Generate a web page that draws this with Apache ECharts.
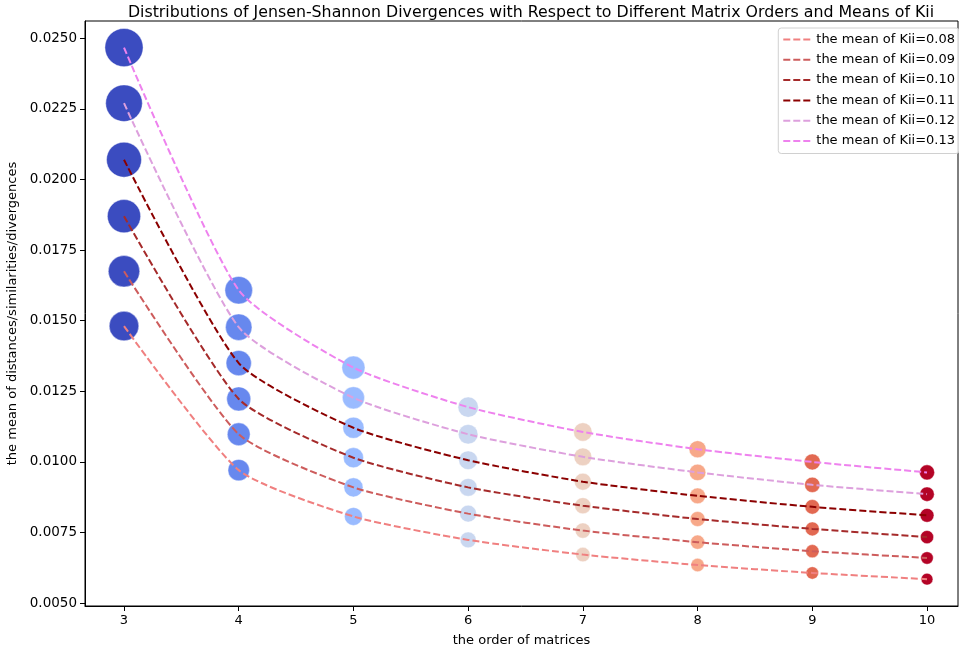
<!DOCTYPE html>
<html>
<head>
<meta charset="utf-8">
<script src="https://cdn.jsdelivr.net/npm/echarts@6/dist/echarts.min.js"></script>
<style>
  html, body { margin: 0; padding: 0; background: #fff; }
  #chart { width: 959px; height: 654px; }
</style>
</head>
<body>
<div id="chart"></div>
<script>
// matrix orders (x axis)
var orders = [3, 4, 5, 6, 7, 8, 9, 10];
// mean JS divergence per order, one list per mean of Kii
var kii008 = [0.01481, 0.00971, 0.00807, 0.00724, 0.00672, 0.00635, 0.00607, 0.00585];
var kii009 = [0.01675, 0.01098, 0.00910, 0.00817, 0.00757, 0.00716, 0.00684, 0.00660];
var kii010 = [0.01870, 0.01223, 0.01015, 0.00910, 0.00845, 0.00798, 0.00763, 0.00734];
var kii011 = [0.02070, 0.01350, 0.01121, 0.01006, 0.00930, 0.00880, 0.00841, 0.00811];
var kii012 = [0.02270, 0.01477, 0.01227, 0.01098, 0.01018, 0.00963, 0.00919, 0.00886];
var kii013 = [0.02467, 0.01608, 0.01334, 0.01194, 0.01106, 0.01045, 0.01000, 0.00963];
var seriesNames = [
  "the mean of Kii=0.08", "the mean of Kii=0.09", "the mean of Kii=0.10",
  "the mean of Kii=0.11", "the mean of Kii=0.12", "the mean of Kii=0.13"
];
var yTicks = [0.0050, 0.0075, 0.0100, 0.0125, 0.0150, 0.0175, 0.0200, 0.0225, 0.0250];

var allValues = [kii008, kii009, kii010, kii011, kii012, kii013];
var lineColors = ["#f08080", "#cd5c5c", "#a52a2a", "#8b0000", "#dda0dd", "#ee82ee"];
// coolwarm sampled at 8 steps, one per order
var orderColors = ["#3b4cc0", "#6788ee", "#9abbff", "#c9d7f0", "#edd1c2", "#f7a889", "#e26952", "#b40426"];
var font = "DejaVu Sans";

var chart = echarts.init(document.getElementById("chart"));

var series = [];
// scatter dots first (under the lines)
var dots = [];
allValues.forEach(function (vals) {
  vals.forEach(function (v, i) {
    dots.push({ value: [orders[i], v], itemStyle: { color: orderColors[i] } });
  });
});
series.push({
  name: "dots",
  type: "scatter",
  data: dots,
  symbolSize: function (val) {
    return 243 * Math.sqrt(val[1]) * Math.pow(3 / val[0], 0.38);
  },
  itemStyle: { borderColor: "rgba(255,255,255,0.7)", borderWidth: 0.6, opacity: 1 },
  emphasis: { disabled: true },
  z: 2
});

allValues.forEach(function (vals, k) {
  series.push({
    name: seriesNames[k],
    type: "line",
    data: vals.map(function (v, i) { return [orders[i], v]; }),
    smooth: 0.2,
    symbol: "none",
    lineStyle: { color: lineColors[k], width: 2, type: [7, 3] },
    itemStyle: { color: lineColors[k] },
    z: 3
  });
});

var option = {
  backgroundColor: "#fff",
  animation: false,
  textStyle: { fontFamily: font },
  title: {
    text: "Distributions of Jensen-Shannon Divergences with Respect to Different Matrix Orders and Means of Kii",
    left: 526,
    textAlign: "center",
    top: 0,
    textStyle: { fontSize: 15.8, fontWeight: "normal", color: "#000", fontFamily: font }
  },
  legend: {
    data: seriesNames,
    orient: "vertical",
    right: 0,
    top: 28,
    padding: [5, 4, 6, 4],
    itemWidth: 28,
    itemHeight: 14,
    itemGap: 7.3,
    itemStyle: { opacity: 0 },
    backgroundColor: "rgba(255,255,255,0.8)",
    borderColor: "#d0d0d0",
    borderWidth: 1,
    borderRadius: 3,
    textStyle: { fontSize: 13, color: "#000", fontFamily: font }
  },
  grid: {
    left: 85, right: 1, top: 21, bottom: 48,
    outerBoundsMode: "none",
    show: true, borderColor: "#000", borderWidth: 1
  },
  xAxis: {
    type: "value",
    min: 2.66,
    max: 10.27,
    name: "the order of matrices",
    nameLocation: "middle",
    nameGap: 28,
    nameTextStyle: { fontSize: 13, color: "#000", fontFamily: font },
    axisLine: { show: true, lineStyle: { color: "#000", width: 1 } },
    axisTick: { show: true, length: 5, lineStyle: { color: "#000" }, customValues: orders },
    axisLabel: { color: "#000", fontSize: 13, fontFamily: font, margin: 8, customValues: orders },
    splitLine: { show: false }
  },
  yAxis: {
    type: "value",
    min: 0.0049,
    max: 0.02561,
    name: "the mean of distances/similarities/divergences",
    nameLocation: "middle",
    nameGap: 62,
    nameTextStyle: { fontSize: 13, color: "#000", fontFamily: font },
    axisLine: { show: true, lineStyle: { color: "#000", width: 1 } },
    axisTick: { show: true, length: 5, lineStyle: { color: "#000" }, customValues: yTicks },
    axisLabel: {
      color: "#000", fontSize: 13.5, fontFamily: font, margin: 8, customValues: yTicks,
      formatter: function (v) { return v.toFixed(4); }
    },
    splitLine: { show: false }
  },
  series: series
};

chart.setOption(option);
</script>
</body>
</html>
